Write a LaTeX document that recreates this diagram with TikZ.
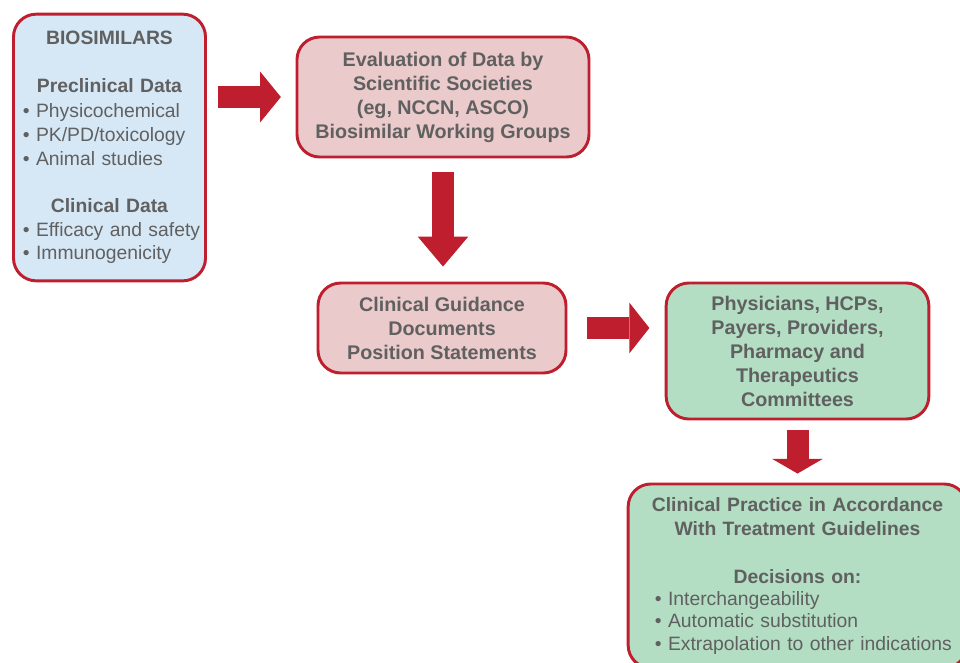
\documentclass[tikz,border=0pt]{standalone}
\usepackage{fontspec}
\setmainfont{Liberation Sans}
\usepackage{tikz}
\usetikzlibrary{arrows.meta}

\definecolor{bordred}{HTML}{BE1E2D}
\definecolor{txtgray}{HTML}{606060}
\definecolor{bioblue}{HTML}{D6E8F6}
\definecolor{evalpink}{HTML}{EBCACB}
\definecolor{pracgreen}{HTML}{B3DEC3}

\newcommand{\bitem}[2]{\makebox[#1][l]{\textbullet\ #2}}

\begin{document}
\begin{tikzpicture}[
    x=0.75pt, y=-0.75pt,
    font=\fontsize{14.5}{17.8}\selectfont,
    box/.style={draw=bordred, line width=2.2pt, rounded corners=17pt, align=center,
                text=txtgray, inner sep=0pt},
    bio/.style={box, fill=bioblue},
    eval/.style={box, fill=evalpink, font=\fontsize{14.8}{18}\selectfont\bfseries},
    prac/.style={box, fill=pracgreen},
    blockarr/.style={draw=bordred, line width=16.5pt},
  ]
    \clip (0,0) rectangle (960,662);

    \node[bio, minimum width=144pt, minimum height=200pt, text width=130pt] (bio) at (109.5,147.5)
      {\textbf{BIOSIMILARS}\\[18.5pt]
       \textbf{Preclinical Data}\\[1pt]
       \bitem{130pt}{Physicochemical}\\
       \bitem{130pt}{PK/PD/toxicology}\\
       \bitem{130pt}{Animal studies}\\[17.5pt]
       \textbf{Clinical Data}\\
       \bitem{130pt}{Efficacy and safety}\\
       \bitem{130pt}{Immunogenicity}};

    \node[eval, minimum width=219pt, minimum height=90pt] (evald) at (443,97)
      {Evaluation of Data by\\Scientific Societies\\(eg, NCCN, ASCO)\\Biosimilar Working Groups};

    \node[eval, minimum width=186pt, minimum height=67.5pt] (guide) at (442,328)
      {Clinical Guidance\\Documents\\Position Statements};

    \node[prac, font=\fontsize{14.8}{18}\selectfont\bfseries, minimum width=197pt,
          minimum height=102pt] (users) at (797.5,351)
      {Physicians, HCPs,\\Payers, Providers,\\Pharmacy and\\Therapeutics\\Committees};

    \node[prac, minimum width=254pt, minimum height=138pt, text width=240pt] (practice) at (797.5,576)
      {\textbf{Clinical Practice in Accordance}\\
       \textbf{With Treatment Guidelines}\\[18pt]
       \textbf{Decisions on:}\\[-1pt]
       \bitem{214pt}{Interchangeability}\\[-1pt]
       \bitem{214pt}{Automatic substitution}\\[-1pt]
       \bitem{214pt}{Extrapolation to other indications}};

    % block arrows between the stages
    \draw[blockarr, -{Triangle[length=15.5pt, width=38pt, line width=0pt]},
          shorten <=8pt, shorten >=11pt] (bio.east |- evald.west) -- (evald.west);
    \draw[blockarr, -{Triangle[length=22.5pt, width=38pt, line width=0pt]},
          shorten <=10.5pt, shorten >=11.25pt] (evald.south) -- (evald.south |- guide.north);
    \draw[blockarr, -{Triangle[length=15pt, width=38pt, line width=0pt]},
          shorten <=15pt, shorten >=11.5pt] (guide.east) -- (users.west |- guide.east);
    \draw[blockarr, -{Triangle[length=11pt, width=38pt, line width=0pt]},
          shorten <=7.5pt, shorten >=6.75pt] (users.south) -- (users.south |- practice.north);
  \end{tikzpicture}
\end{document}
